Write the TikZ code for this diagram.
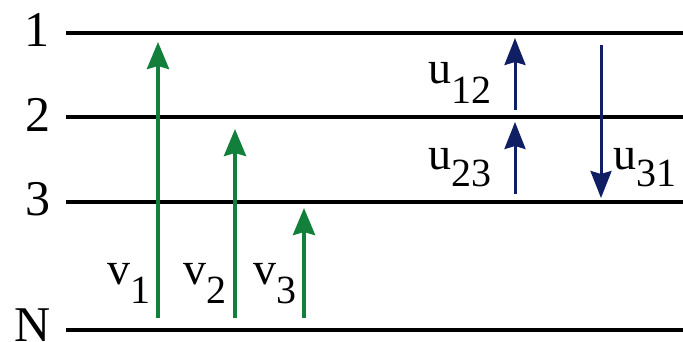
\documentclass[tikz,border=0pt]{standalone}
\usepackage{fontspec}
\setmainfont{Liberation Serif}
\usetikzlibrary{arrows.meta}
\definecolor{levgreen}{RGB}{18,128,58}
\definecolor{levnavy}{RGB}{16,30,100}
\newcommand\sublab[3]{#1\raisebox{-#3pt}{\fontsize{40}{40}\selectfont #2}}
\begin{document}
\begin{tikzpicture}[x=1pt,y=-1pt,
  level/.style={line width=3.5pt, black},
  levlabel/.style={font=\fontsize{50}{50}\selectfont, anchor=base, inner sep=0pt},
  translabel/.style={font=\fontsize{46}{46}\selectfont, anchor=base west, inner sep=0pt},
  pump/.style={levgreen, line width=4pt, -{Stealth[length=27pt,width=22pt,inset=3pt]}},
  relax/.style={levnavy, line width=3pt, -{Stealth[length=27pt,width=21pt,inset=3pt]}}]
\useasboundingbox (0,0) rectangle (683,342);
% levels
\coordinate (L1a) at (66,33);  \coordinate (L1b) at (683,33);
\coordinate (L2a) at (66,117); \coordinate (L2b) at (683,117);
\coordinate (L3a) at (66,202); \coordinate (L3b) at (683,202);
\coordinate (LNa) at (66,330); \coordinate (LNb) at (683,330);
\draw[level] (L1a) -- (L1b);
\draw[level] (L2a) -- (L2b);
\draw[level] (L3a) -- (L3b);
\draw[level] (LNa) -- (LNb);
\node[levlabel] (n1) at (37,47) {1};
\node[levlabel] (n2) at (38,132) {2};
\node[levlabel] (n3) at (38,215) {3};
\node[levlabel] (nN) at (33,341) {N};
% pump arrows
\coordinate (v1s) at (158,318); \coordinate (v1e) at (158,42);
\coordinate (v2s) at (235,318); \coordinate (v2e) at (235,129);
\coordinate (v3s) at (304,318); \coordinate (v3e) at (304,208);
\draw[pump] (v1s) -- (v1e);
\draw[pump] (v2s) -- (v2e);
\draw[pump] (v3s) -- (v3e);
\node[translabel] (tv1) at (107,284) {\sublab{v}{1}{19}};
\node[translabel] (tv2) at (183,284) {\sublab{v}{2}{19}};
\node[translabel] (tv3) at (253,284) {\sublab{v}{3}{19}};
% transitions
\coordinate (u12s) at (515,110); \coordinate (u12e) at (515,38);
\coordinate (u23s) at (515,194); \coordinate (u23e) at (515,122);
\coordinate (u31s) at (601,45);  \coordinate (u31e) at (601,198);
\draw[relax] (u12s) -- (u12e);
\draw[relax] (u23s) -- (u23e);
\draw[relax] (u31s) -- (u31e);
\node[translabel] (tu12) at (428,84) {\sublab{u}{12}{20}};
\node[translabel] (tu23) at (428,170) {\sublab{u}{23}{17}};
\node[translabel] (tu31) at (613,170) {\sublab{u}{31}{17}};
\end{tikzpicture}
\end{document}
